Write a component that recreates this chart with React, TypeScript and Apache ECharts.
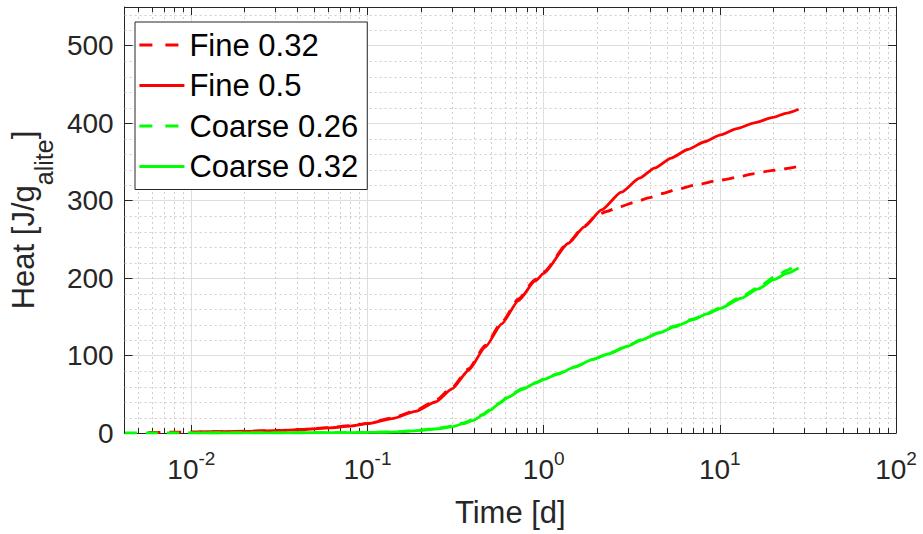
import React, { useEffect, useRef } from "react";
import * as echarts from "echarts";

// ---- Data ----
const seriesNames = ["Fine 0.32", "Fine 0.5", "Coarse 0.26", "Coarse 0.32"];

const fine032T = [0.0057, 0.008, 0.011, 0.015, 0.02, 0.03, 0.043, 0.06, 0.08, 0.1, 0.138, 0.187, 0.243, 0.302, 0.375, 0.466, 0.578, 0.719, 0.893, 1.0, 1.38, 1.7, 2.0, 2.27, 2.7, 3.29, 4.0, 4.66, 5.8, 7.18, 10.1, 12.5, 15.7, 20, 27.5];
const fine032V = [0.8, 1.0, 1.4, 1.8, 2.3, 3.2, 4.8, 7, 9.5, 12.5, 19.5, 29, 42, 59, 83, 113, 143, 173, 198, 208, 246, 267, 281, 286, 292, 298, 304, 309, 315, 320, 326.5, 330, 335, 339, 344];

const fine05T = [0.011, 0.015, 0.02, 0.03, 0.043, 0.06, 0.08, 0.1, 0.138, 0.187, 0.243, 0.302, 0.375, 0.466, 0.578, 0.719, 0.893, 1.0, 1.38, 1.7, 2.13, 2.76, 3.5, 4.26, 5.3, 6.58, 8.2, 10.1, 12.5, 15.7, 20, 24, 28];
const fine05V = [1.5, 1.8, 2.2, 3, 4.5, 6.5, 9, 12, 18.6, 28, 40, 57, 81, 111, 141, 171, 196, 206, 245, 266, 288, 311, 329, 342, 355, 366, 376, 385, 393, 400.5, 407.5, 413, 418];

const coarse026T = [0.0042, 0.006, 0.01, 0.03, 0.06, 0.1, 0.15, 0.2, 0.25, 0.302, 0.35, 0.397, 0.45, 0.494, 0.56, 0.627, 0.75, 0.893, 1.0, 1.2, 1.5, 1.9, 2.32, 3.0, 3.58, 4.5, 5.52, 7.0, 8.53, 10.1, 13.2, 16.5, 20.3, 24, 28];
const coarse026V = [0, 0, 0, 0.2, 0.4, 0.8, 1.6, 3.8, 6, 9, 13, 17.5, 24, 30, 39, 47, 57, 65, 69.5, 76.5, 85.5, 95, 102.5, 112.5, 120.5, 129.5, 138, 147, 155, 162, 176, 188, 201, 210, 219];

const coarse032T = [0.011, 0.03, 0.06, 0.1, 0.15, 0.2, 0.25, 0.302, 0.35, 0.397, 0.45, 0.494, 0.56, 0.627, 0.75, 0.893, 1.0, 1.2, 1.5, 1.9, 2.32, 3.0, 3.58, 4.5, 5.52, 7.0, 8.53, 10.1, 13.2, 16.5, 20.3, 24, 28];
const coarse032V = [0, 0.2, 0.4, 0.8, 1.5, 3.5, 5.5, 8, 12, 16, 23, 29, 38, 46, 56, 64, 69, 76, 85, 95, 102, 112, 120, 129, 137, 146, 154, 161, 174, 186, 198, 206, 213];

// minor grid positions (log axis: 2..9 of each decade) and y minor grid (every 20)
const xMinorTicks = [0.005, 0.006, 0.007, 0.008, 0.009, 0.02, 0.03, 0.04, 0.05, 0.06, 0.07, 0.08, 0.09, 0.2, 0.3, 0.4, 0.5, 0.6, 0.7, 0.8, 0.9, 2, 3, 4, 5, 6, 7, 8, 9, 20, 30, 40, 50, 60, 70, 80, 90];
const yMinorTicks = [20, 40, 60, 80, 120, 140, 160, 180, 220, 240, 260, 280, 320, 340, 360, 380, 420, 440, 460, 480, 520, 540];

const X_MIN = 0.00418;
const X_MAX = 100;
const Y_MIN = 0;
const Y_MAX = 550;
const Y_STEP = 100;

const FONT = "'Liberation Sans', Arial, Helvetica, sans-serif";
const AXIS_COLOR = "#262626";
const RED = "#ff0000";
const GREEN = "#00ff00";
const LINE_W = 2.8;

const zip = (t: number[], v: number[]) => t.map((x, i) => [x, v[i]]);

export default function App() {
  const ref = useRef<HTMLDivElement>(null);

  useEffect(() => {
    if (!ref.current) return;
    const chart = echarts.init(ref.current, null, { renderer: "svg" });

    const lineSeries = (name: string, data: number[][], color: string, dashed: boolean) => ({
      name,
      type: "line",
      data,
      showSymbol: false,
      symbol: "none",
      symbolSize: 0,
      smooth: 0.2,
      smoothMonotone: "x",
      xAxisIndex: 0,
      yAxisIndex: 0,
      z: 5,
      lineStyle: { color, width: LINE_W, type: dashed ? [12, 9] : "solid" },
      itemStyle: { color },
    });

    const legendItem = (name: string, dashed: boolean) => ({
      name,
      itemStyle: { opacity: 0 },
      lineStyle: { width: LINE_W, type: dashed ? [13, 13] : "solid" },
    });

    const option: any = {
      animation: false,
      backgroundColor: "#ffffff",
      textStyle: { fontFamily: FONT },
      grid: { left: 121, top: 7, right: 27, bottom: 101, containLabel: false },
      legend: {
        data: [
          legendItem(seriesNames[0], true),
          legendItem(seriesNames[1], false),
          legendItem(seriesNames[2], true),
          legendItem(seriesNames[3], false),
        ],
        orient: "vertical",
        left: 135,
        top: 22,
        itemWidth: 45,
        itemHeight: 14,
        itemGap: 4.5,
        padding: [5, 9, 5, 3],
        backgroundColor: "#ffffff",
        borderColor: AXIS_COLOR,
        borderWidth: 1,
        borderRadius: 0,
        itemStyle: { opacity: 0 },
        textStyle: { fontFamily: FONT, fontSize: 31, color: "#000000", lineHeight: 36 },
        z: 10,
      },
      xAxis: [
        {
          type: "log",
          logBase: 10,
          min: X_MIN,
          max: X_MAX,
          position: "bottom",
          name: "Time [d]",
          nameLocation: "middle",
          nameGap: 64,
          nameTextStyle: { fontFamily: FONT, fontSize: 31, color: AXIS_COLOR },
          axisLine: { show: true, onZero: false, lineStyle: { color: AXIS_COLOR, width: 1 } },
          axisTick: { show: true, inside: true, length: 8, lineStyle: { color: AXIS_COLOR } },
          axisLabel: {
            margin: 16,
            showMinLabel: true,
            formatter: (v: number) => {
              const e = Math.log10(v);
              const r = Math.round(e);
              if (Math.abs(e - r) > 1e-6) return "";
              return "{b|10}{s|" + (r < 0 ? "-" + -r : String(r)) + "}";
            },
            rich: {
              b: { fontFamily: FONT, fontSize: 28, color: AXIS_COLOR, lineHeight: 40, verticalAlign: "middle" },
              s: { fontFamily: FONT, fontSize: 19, color: AXIS_COLOR, lineHeight: 20, verticalAlign: "top" },
            },
          },
          splitLine: { show: true, lineStyle: { color: "#dedede", width: 1 } },
          minorTick: { show: false },
          minorSplitLine: { show: false },
        },
        {
          type: "log",
          logBase: 10,
          min: X_MIN,
          max: X_MAX,
          position: "top",
          axisLine: { show: true, onZero: false, lineStyle: { color: AXIS_COLOR, width: 1 } },
          axisTick: { show: true, inside: true, length: 8, lineStyle: { color: AXIS_COLOR } },
          axisLabel: { show: false },
          splitLine: { show: false },
        },
      ],
      yAxis: [
        {
          type: "value",
          min: Y_MIN,
          max: Y_MAX,
          interval: Y_STEP,
          position: "left",
          name: "{m|Heat [J/g}{sub|alite}{m|]}",
          nameLocation: "middle",
          nameRotate: 90,
          nameGap: 62,
          nameTextStyle: {
            fontFamily: FONT,
            color: AXIS_COLOR,
            rich: {
              m: { fontFamily: FONT, fontSize: 31, color: AXIS_COLOR, lineHeight: 65, verticalAlign: "middle" },
              sub: { fontFamily: FONT, fontSize: 25, color: AXIS_COLOR, lineHeight: 25, verticalAlign: "bottom" },
            },
          },
          axisLine: { show: true, onZero: false, lineStyle: { color: AXIS_COLOR, width: 1 } },
          axisTick: { show: true, inside: true, length: 8, lineStyle: { color: AXIS_COLOR } },
          axisLabel: {
            margin: 11,
            showMaxLabel: false,
            fontFamily: FONT,
            fontSize: 28,
            color: AXIS_COLOR,
          },
          splitLine: { show: true, lineStyle: { color: "#dedede", width: 1 } },
        },
        {
          type: "value",
          min: Y_MIN,
          max: Y_MAX,
          interval: Y_STEP,
          position: "right",
          axisLine: { show: true, onZero: false, lineStyle: { color: AXIS_COLOR, width: 1 } },
          axisTick: { show: true, inside: true, length: 8, lineStyle: { color: AXIS_COLOR } },
          axisLabel: { show: false },
          splitLine: { show: false },
        },
      ],
      series: [
        {
          name: "xMinor",
          type: "custom",
          xAxisIndex: 0,
          yAxisIndex: 0,
          silent: true,
          clip: false,
          z: 1,
          data: xMinorTicks.map((t) => [t, 100]),
          encode: { x: 0, y: 1 },
          renderItem: (params: any, api: any) => {
            const x = Math.round(api.coord([api.value(0), 100])[0]) + 0.5;
            const cs = params.coordSys;
            const top = cs.y;
            const bot = cs.y + cs.height;
            return {
              type: "group",
              children: [
                { type: "line", shape: { x1: x, y1: top, x2: x, y2: bot }, style: { stroke: "#cfcfcf", lineWidth: 1, lineDash: [2, 3] } },
                { type: "line", shape: { x1: x, y1: bot, x2: x, y2: bot - 5 }, style: { stroke: AXIS_COLOR, lineWidth: 1 } },
                { type: "line", shape: { x1: x, y1: top, x2: x, y2: top + 5 }, style: { stroke: AXIS_COLOR, lineWidth: 1 } },
              ],
            };
          },
        },
        {
          name: "yMinor",
          type: "custom",
          xAxisIndex: 0,
          yAxisIndex: 0,
          silent: true,
          clip: false,
          z: 1,
          data: yMinorTicks.map((v) => [1, v]),
          encode: { x: 0, y: 1 },
          renderItem: (params: any, api: any) => {
            const y = Math.round(api.coord([1, api.value(1)])[1]) + 0.5;
            const cs = params.coordSys;
            return {
              type: "line",
              shape: { x1: cs.x, y1: y, x2: cs.x + cs.width, y2: y },
              style: { stroke: "#cfcfcf", lineWidth: 1, lineDash: [2, 3] },
            };
          },
        },
        lineSeries(seriesNames[0], zip(fine032T, fine032V), RED, true),
        lineSeries(seriesNames[1], zip(fine05T, fine05V), RED, false),
        lineSeries(seriesNames[2], zip(coarse026T, coarse026V), GREEN, true),
        lineSeries(seriesNames[3], zip(coarse032T, coarse032V), GREEN, false),
      ],
    };

    chart.setOption(option);
    return () => chart.dispose();
  }, []);

  return (
    <div
      ref={ref}
      style={{ position: "fixed", left: 0, top: 0, width: 923, height: 534, background: "#fff" }}
    />
  );
}
